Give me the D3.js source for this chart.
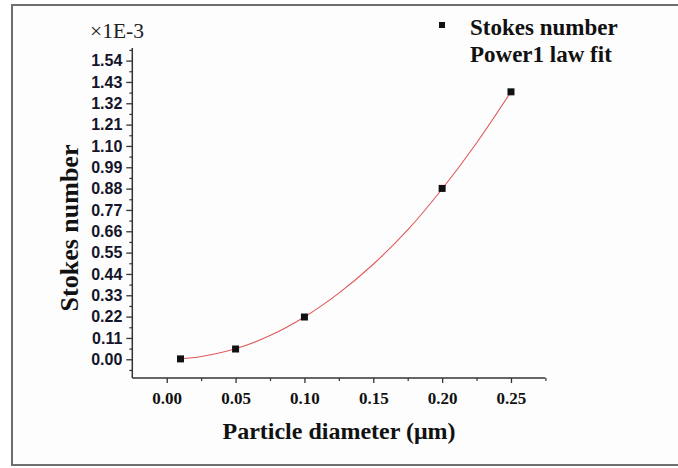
<!DOCTYPE html>
<html><head><meta charset="utf-8">
<script src="https://cdn.jsdelivr.net/npm/d3@7"></script>
<style>
html,body{margin:0;padding:0;background:#fff;}
svg{display:block;}
</style></head>
<body>
<svg id="chart" width="678" height="468"></svg>
<script>
// Data
const diameters = [0.01, 0.05, 0.10, 0.20, 0.25];          // Particle diameter (µm)
const stokesNumber = [0.002, 0.053, 0.218, 0.881, 1.379];  // ×1E-3
// Power1 law fit curve
const fitDiameters = [0.01, 0.025, 0.05, 0.075, 0.10, 0.125, 0.15, 0.175, 0.20, 0.225, 0.25];
const fitStokes = [0.002, 0.014, 0.054, 0.122, 0.218, 0.341, 0.490, 0.667, 0.878, 1.115, 1.379];
const yTickValues = [0.00, 0.11, 0.22, 0.33, 0.44, 0.55, 0.66, 0.77, 0.88, 0.99, 1.10, 1.21, 1.32, 1.43, 1.54];
const yMinorValues = [-0.055, 0.055, 0.165, 0.275, 0.385, 0.495, 0.605, 0.715, 0.825, 0.935, 1.045, 1.155, 1.265, 1.375, 1.485, 1.595];
const xTickValues = [0.00, 0.05, 0.10, 0.15, 0.20, 0.25];
const xMinorValues = [0.025, 0.075, 0.125, 0.175, 0.225, 0.275];
const legendLabels = ["Stokes number", "Power1 law fit"];

const svg = d3.select("#chart");

// frame
svg.append("rect").attr("x", 12).attr("y", 5).attr("width", 680).attr("height", 460)
  .attr("fill", "#fdfdfd").attr("stroke", "#6e6e6e").attr("stroke-width", 2);

const x = d3.scaleLinear().domain([-0.025, 0.275]).range([132.3, 545.4]);
const y = d3.scaleLinear().domain([-0.0965, 1.605]).range([378, 48]);

const axisColor = "#333";

// Y axis
const gy = svg.append("g").attr("transform", `translate(${x(-0.025)},0)`);
gy.call(d3.axisLeft(y).tickValues(yTickValues).tickSize(6).tickSizeOuter(0).tickPadding(4)
  .tickFormat(d3.format(".2f")));
gy.select(".domain").remove();
gy.selectAll(".tick line").attr("stroke", axisColor).attr("stroke-width", 1.3);
gy.selectAll(".tick text").attr("font-family", "Liberation Sans, Arial, sans-serif")
  .attr("font-weight", "bold").attr("font-size", 16).attr("fill", "#15152a");
const gyMinor = svg.append("g").attr("transform", `translate(${x(-0.025)},0)`);
gyMinor.call(d3.axisLeft(y).tickValues(yMinorValues).tickSize(3).tickFormat(""));
gyMinor.select(".domain").remove();
gyMinor.selectAll(".tick line").attr("stroke", axisColor).attr("stroke-width", 1.2);
svg.append("line").attr("x1", x(-0.025)).attr("x2", x(-0.025)).attr("y1", y(-0.0965)).attr("y2", y(1.605))
  .attr("stroke", axisColor).attr("stroke-width", 1.5);

// X axis
const gx = svg.append("g").attr("transform", `translate(0,${y(-0.0965)})`);
gx.call(d3.axisBottom(x).tickValues(xTickValues).tickSize(5).tickSizeOuter(0).tickPadding(9)
  .tickFormat(d3.format(".2f")));
gx.select(".domain").remove();
gx.selectAll(".tick line").attr("stroke", axisColor).attr("stroke-width", 1.3);
gx.selectAll(".tick text").attr("font-family", "Liberation Serif, Times New Roman, serif")
  .attr("font-weight", "bold").attr("font-size", 17).attr("fill", "#111");
const gxMinor = svg.append("g").attr("transform", `translate(0,${y(-0.0965)})`);
gxMinor.call(d3.axisBottom(x).tickValues(xMinorValues).tickSize(3).tickFormat(""));
gxMinor.select(".domain").remove();
gxMinor.selectAll(".tick line").attr("stroke", axisColor).attr("stroke-width", 1.2);
svg.append("line").attr("x1", x(-0.025)).attr("x2", x(0.275)).attr("y1", y(-0.0965)).attr("y2", y(-0.0965))
  .attr("stroke", axisColor).attr("stroke-width", 1.5);

// fit curve
const fitData = fitDiameters.map((d, i) => [d, fitStokes[i]]);
svg.append("path").datum(fitData)
  .attr("d", d3.line().x(d => x(d[0])).y(d => y(d[1])).curve(d3.curveCatmullRom))
  .attr("fill", "none").attr("stroke", "#e05a5a").attr("stroke-width", 1.1);

// points
const pts = diameters.map((d, i) => [d, stokesNumber[i]]);
svg.append("g").selectAll("rect").data(pts).join("rect")
  .attr("x", d => x(d[0]) - 3.5).attr("y", d => y(d[1]) - 3.5)
  .attr("width", 7).attr("height", 7).attr("fill", "#111");

// multiplier label
svg.append("text").attr("x", 90).attr("y", 38).attr("textLength", 54).attr("lengthAdjust", "spacingAndGlyphs")
  .attr("font-family", "Liberation Serif, Times New Roman, serif").attr("font-size", 20)
  .attr("fill", "#222").text("×1E-3");

// axis titles
svg.append("text").attr("transform", "translate(78,228) rotate(-90)").attr("text-anchor", "middle")
  .attr("font-family", "Liberation Serif, Times New Roman, serif").attr("font-weight", "bold")
  .attr("font-size", 26).attr("fill", "#111").text("Stokes number");
svg.append("text").attr("x", 339).attr("y", 439).attr("text-anchor", "middle")
  .attr("font-family", "Liberation Serif, Times New Roman, serif").attr("font-weight", "bold")
  .attr("font-size", 24).attr("fill", "#111").text("Particle diameter (μm)");

// legend
svg.append("rect").attr("x", 439).attr("y", 22).attr("width", 6).attr("height", 6).attr("fill", "#111");
svg.append("g").selectAll("text").data(legendLabels).join("text")
  .attr("x", 470).attr("y", (d, i) => 35 + i * 27)
  .attr("font-family", "Liberation Serif, Times New Roman, serif").attr("font-weight", "bold")
  .attr("font-size", 23).attr("fill", "#111").text(d => d);
</script>
</body></html>
